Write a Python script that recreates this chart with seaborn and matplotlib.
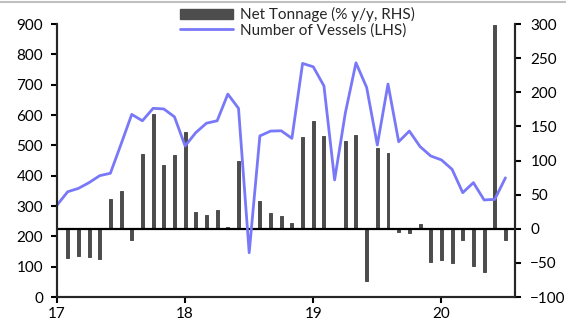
import numpy as np
import pandas as pd
import matplotlib.pyplot as plt
from matplotlib.lines import Line2D
from matplotlib.patches import Patch
import seaborn as sns

sns.set_style("ticks")
plt.rcParams['font.family'] = ['Lato', 'DejaVu Sans']

# monthly data, Jan 2017 .. Jul 2020
months = list(range(43))
vessels = [303, 347, 358, 377, 400, 408, 504, 602, 581, 622,
           620, 594, 498, 542, 573, 581, 669, 622, 146, 531,
           547, 548, 523, 770, 759, 696, 386, 606, 772, 691,
           501, 702, 512, 547, 496, 465, 452, 421, 344, 377,
           320, 322, 393]
tonnage = [0, -43, -40, -42, -44, 44, 56, -16, 109, 168,
           93, 108, 142, 24, 20, 27, 3, 100, 0, 41,
           23, 19, 8, 134, 158, 136, -1, 129, 138, -77,
           118, 111, -5, -6, 7, -49, -46, -50, -17, -54,
           -64, 298, -17]
year_ticks = [0, 12, 24, 36]
year_labels = ['17', '18', '19', '20']
labels = ['Net Tonnage (% y/y, RHS)', 'Number of Vessels (LHS)']

bar_color = '#4d4d4d'
line_color = '#7878f8'

df = pd.DataFrame({'month': months, 'vessels': vessels, 'tonnage': tonnage})

fig = plt.figure(figsize=(5.66, 3.27), dpi=100)
ax = fig.add_axes([0.1007, 0.0917, 0.8093, 0.8349])
ax2 = ax.twinx()

# bars on the right axis
sns.barplot(data=df, x='month', y='tonnage', native_scale=True, ax=ax2,
            color=bar_color, saturation=1, width=0.28, errorbar=None,
            edgecolor=bar_color, linewidth=0.7)
ax2.axhline(0, color='black', lw=1.6, zorder=3)

# line on the left axis, drawn above the bars
sns.lineplot(data=df, x='month', y='vessels', ax=ax, color=line_color, lw=2)
ax.set_zorder(ax2.get_zorder() + 1)
ax.patch.set_visible(False)

ax.set_ylim(0, 900)
ax.set_yticks(range(0, 901, 100))
ax2.set_ylim(-100, 300)
ax2.set_yticks(range(-100, 301, 50))
ax.set_xlim(0, 42.9)
ax.set_xticks(year_ticks)
ax.set_xticklabels(year_labels)

for a in (ax, ax2):
    a.set_xlabel('')
    a.set_ylabel('')
    a.spines['top'].set_visible(False)
    for s in ('left', 'right', 'bottom'):
        a.spines[s].set_linewidth(1.5)
    a.tick_params(direction='out', length=4, width=1.5, labelsize=11, colors='black')
ax.tick_params(axis='y', pad=6)
ax2.tick_params(axis='y', pad=7)
ax.tick_params(axis='x', pad=3)

handles = [Patch(color=bar_color), Line2D([], [], color=line_color, lw=2)]
fig.legend(handles, labels, loc='upper left', bbox_to_anchor=(0.318, 0.978),
           frameon=False, fontsize=11, handlelength=3.5, handletextpad=0.4,
           labelspacing=0.05, borderpad=0, borderaxespad=0)

fig.add_artist(Line2D([0, 1], [0.994, 0.994], color='#c0c0c0', lw=1.5,
                      transform=fig.transFigure))

fig.savefig('out.png', dpi=100)
